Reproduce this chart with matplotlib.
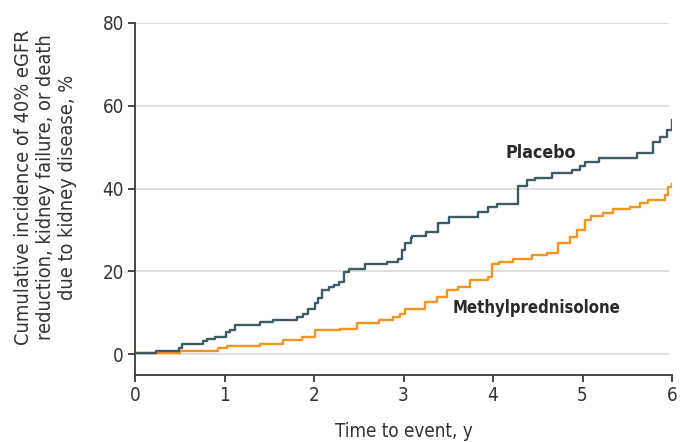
import matplotlib
matplotlib.use("Agg")
import matplotlib.pyplot as plt

# Placebo step curve (time in years, cumulative incidence %)
placebo_t = [0.0, 0.24, 0.49, 0.52, 0.76, 0.81, 0.89, 1.02, 1.06, 1.12, 1.40, 1.54,
             1.81, 1.88, 1.93, 2.01, 2.05, 2.09, 2.17, 2.22, 2.28, 2.33, 2.39, 2.57,
             2.82, 2.94, 2.98, 3.02, 3.08, 3.10, 3.25, 3.39, 3.51, 3.83, 3.94, 4.04,
             4.28, 4.38, 4.47, 4.66, 4.88, 4.97, 5.03, 5.18, 5.61, 5.79, 5.87, 5.94, 6.0]
placebo_y = [0.2, 0.8, 1.6, 2.6, 3.2, 3.6, 4.2, 5.4, 5.8, 7.0, 7.8, 8.2,
             9.0, 9.8, 10.9, 12.3, 13.5, 15.5, 16.2, 16.7, 17.5, 19.9, 20.7, 21.7,
             22.3, 23.1, 25.1, 26.8, 28.0, 28.5, 29.6, 31.6, 33.2, 34.4, 35.6, 36.4,
             40.6, 42.1, 42.6, 43.7, 44.5, 45.4, 46.5, 47.5, 48.7, 51.3, 52.5, 54.1, 56.6]

# Methylprednisolone step curve
methyl_t = [0.0, 0.50, 0.93, 1.03, 1.40, 1.65, 1.87, 2.01, 2.29, 2.48, 2.73, 2.88,
            2.96, 3.02, 3.24, 3.37, 3.49, 3.61, 3.74, 3.94, 3.99, 4.07, 4.22, 4.44,
            4.60, 4.73, 4.86, 4.94, 5.03, 5.09, 5.23, 5.34, 5.53, 5.64, 5.73, 5.92, 5.96, 6.0]
methyl_y = [0.2, 0.8, 1.4, 1.9, 2.6, 3.5, 4.2, 5.8, 6.2, 7.6, 8.4, 9.0,
            9.8, 11.0, 12.6, 13.9, 15.5, 16.3, 17.9, 18.7, 21.9, 22.3, 22.9, 23.9,
            24.5, 26.8, 28.4, 30.0, 32.4, 33.4, 34.0, 35.0, 35.6, 36.6, 37.2, 38.4, 40.4, 41.1]

x_ticks = [0, 1, 2, 3, 4, 5, 6]
y_ticks = [0, 20, 40, 60, 80]

plt.rcParams["font.family"] = ["DejaVu Sans"]
plt.rcParams["font.stretch"] = "condensed"
TXT = "#333333"
AXC = "#3a3a3a"

fig = plt.figure(figsize=(6.82, 4.42), dpi=100)
ax = fig.add_axes([135/682, 1-375/442, (672-135)/682, (375-23)/442])

for y in y_ticks:
    ax.axhline(y, color="#dcdcdc", lw=1.3, zorder=0, xmax=0.993)

ax.step(placebo_t, placebo_y, where="post", color="#3d5c66", lw=1.7, zorder=3)
ax.step(methyl_t, methyl_y, where="post", color="#f7941d", lw=1.7, zorder=2)

ax.text(4.53, 48.6, "Placebo", ha="center", va="center", fontsize=12.8,
        color="#2a2a2a", fontweight="bold", fontstretch="condensed")
ax.text(4.49, 11.1, "Methylprednisolone", ha="center", va="center", fontsize=12,
        color="#2a2a2a", fontweight="bold", fontstretch="condensed")

ax.set_xlim(0, 6)
ax.set_ylim(-5, 80)
ax.set_xticks(x_ticks)
ax.set_yticks(y_ticks)
ax.tick_params(axis="both", direction="out", length=5, width=1.3, color=AXC,
               labelsize=13.5, labelcolor=TXT, pad=3)
for s in ["top", "right"]:
    ax.spines[s].set_visible(False)
for s in ["left", "bottom"]:
    ax.spines[s].set_color(AXC)
    ax.spines[s].set_linewidth(1.3)
ax.spines["left"].set_bounds(-5, 80)

ax.set_xlabel("Time to event, y", fontsize=13.5, color=TXT, labelpad=12)
fig.text(46/682, 1-187/442,
         "Cumulative incidence of 40% eGFR\nreduction, kidney failure, or death\ndue to kidney disease, %",
         rotation=90, ha="center", va="center", multialignment="center",
         fontsize=14.3, color=TXT, linespacing=1.2)

fig.savefig("out.png", dpi=100)
